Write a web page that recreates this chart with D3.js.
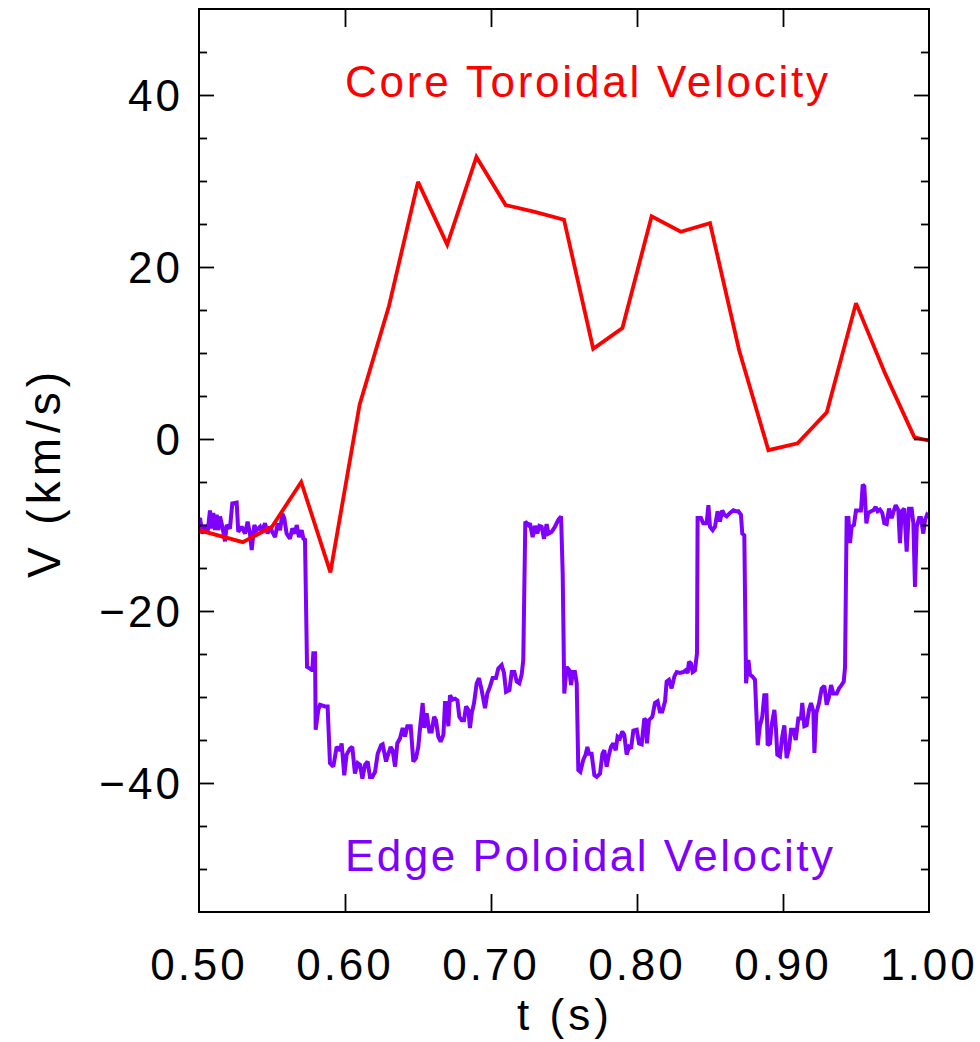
<!DOCTYPE html>
<html>
<head>
<meta charset="utf-8">
<script src="https://cdn.jsdelivr.net/npm/d3@7"></script>
<style>
  html, body { margin: 0; padding: 0; background: #fff; }
  svg { display: block; }
  text { font-family: "Liberation Sans", "DejaVu Sans", sans-serif; }
</style>
</head>
<body>
<div id="chart"></div>
<script>
// ---------- data ----------
const xTicks = [0.5, 0.6, 0.7, 0.8, 0.9, 1.0];
const xTickLabels = ["0.50", "0.60", "0.70", "0.80", "0.90", "1.00"];
const yMajorTicks = [-40, -20, 0, 20, 40];
const yMinorTicks = [-50, -45, -35, -30, -25, -15, -10, -5, 5, 10, 15, 25, 30, 35, 45];
const xLabel = "t (s)";
const yLabel = "V (km/s)";
const coreLabel = "Core Toroidal Velocity";
const edgeLabel = "Edge Poloidal Velocity";

const coreT = [0.50, 0.53, 0.55, 0.57, 0.59, 0.61, 0.63, 0.65, 0.67, 0.69, 0.71, 0.73, 0.75,
  0.77, 0.79, 0.81, 0.83, 0.85, 0.87, 0.89, 0.91, 0.93, 0.95, 0.97, 0.99, 1.00];
const coreV = [-10.6, -12.0, -10.2, -5.0, -15.5, 4.0, 15.4, 29.9, 22.6, 32.8, 27.2, 26.4, 25.5,
  10.5, 12.9, 25.9, 24.1, 25.1, 10.3, -1.3, -0.5, 3.1, 15.8, 7.6, 0.2, -0.2];

const edgeT = [
  0.5000, 0.5007, 0.5023, 0.5041, 0.5059, 0.5075, 0.5087, 0.5098, 0.5110, 0.5121, 0.5132, 0.5144,
  0.5160, 0.5178, 0.5190, 0.5212, 0.5228, 0.5258, 0.5269, 0.5292, 0.5315, 0.5333, 0.5349, 0.5361,
  0.5379, 0.5395, 0.5418, 0.5429, 0.5452, 0.5470, 0.5486, 0.5502, 0.5521, 0.5539, 0.5555, 0.5571,
  0.5584, 0.5600, 0.5623, 0.5639, 0.5658, 0.5669, 0.5685, 0.5703, 0.5715, 0.5726, 0.5740, 0.5760,
  0.5776, 0.5783, 0.5795, 0.5799, 0.5817, 0.5829, 0.5863, 0.5881, 0.5897, 0.5920, 0.5943, 0.5966,
  0.5977, 0.5995, 0.6011, 0.6034, 0.6050, 0.6068, 0.6087, 0.6103, 0.6119, 0.6137, 0.6155, 0.6171,
  0.6187, 0.6206, 0.6224, 0.6247, 0.6258, 0.6281, 0.6297, 0.6313, 0.6326, 0.6343, 0.6358, 0.6377,
  0.6395, 0.6411, 0.6427, 0.6450, 0.6468, 0.6486, 0.6502, 0.6514, 0.6532, 0.6543, 0.6559, 0.6578,
  0.6594, 0.6610, 0.6623, 0.6639, 0.6655, 0.6674, 0.6685, 0.6697, 0.6708, 0.6719, 0.6738, 0.6754,
  0.6770, 0.6783, 0.6799, 0.6815, 0.6829, 0.6845, 0.6856, 0.6868, 0.6884, 0.6902, 0.6918, 0.6936,
  0.6959, 0.6975, 0.6993, 0.7011, 0.7034, 0.7050, 0.7073, 0.7089, 0.7103, 0.7126, 0.7142, 0.7160,
  0.7176, 0.7194, 0.7210, 0.7221, 0.7235, 0.7256, 0.7267, 0.7285, 0.7301, 0.7317, 0.7331, 0.7347,
  0.7363, 0.7381, 0.7393, 0.7415, 0.7438, 0.7461, 0.7480, 0.7491, 0.7502, 0.7518, 0.7537, 0.7548,
  0.7562, 0.7575, 0.7587, 0.7598, 0.7612, 0.7632, 0.7648, 0.7660, 0.7671, 0.7689, 0.7708, 0.7724,
  0.7747, 0.7763, 0.7776, 0.7792, 0.7808, 0.7822, 0.7838, 0.7854, 0.7867, 0.7883, 0.7899, 0.7913,
  0.7929, 0.7945, 0.7959, 0.7975, 0.7998, 0.8014, 0.8032, 0.8050, 0.8059, 0.8068, 0.8082, 0.8105,
  0.8123, 0.8141, 0.8157, 0.8173, 0.8192, 0.8203, 0.8219, 0.8237, 0.8256, 0.8272, 0.8294, 0.8317,
  0.8333, 0.8347, 0.8356, 0.8370, 0.8381, 0.8397, 0.8411, 0.8415, 0.8438, 0.8454, 0.8477, 0.8489,
  0.8500, 0.8518, 0.8534, 0.8552, 0.8568, 0.8584, 0.8598, 0.8614, 0.8637, 0.8660, 0.8676, 0.8694,
  0.8712, 0.8721, 0.8735, 0.8747, 0.8763, 0.8774, 0.8790, 0.8808, 0.8827, 0.8842, 0.8858, 0.8872,
  0.8886, 0.8895, 0.8911, 0.8922, 0.8941, 0.8952, 0.8961, 0.8979, 0.8995, 0.9009, 0.9025, 0.9041,
  0.9055, 0.9071, 0.9087, 0.9105, 0.9123, 0.9132, 0.9146, 0.9162, 0.9178, 0.9192, 0.9208, 0.9215,
  0.9228, 0.9247, 0.9265, 0.9283, 0.9299, 0.9315, 0.9329, 0.9345, 0.9368, 0.9384, 0.9402, 0.9416,
  0.9425, 0.9432, 0.9436, 0.9448, 0.9459, 0.9470, 0.9486, 0.9500, 0.9516, 0.9534, 0.9546, 0.9557,
  0.9571, 0.9584, 0.9603, 0.9619, 0.9635, 0.9648, 0.9664, 0.9680, 0.9694, 0.9710, 0.9726, 0.9744,
  0.9758, 0.9772, 0.9790, 0.9801, 0.9813, 0.9831, 0.9847, 0.9863, 0.9881, 0.9893, 0.9904, 0.9916,
  0.9932, 0.9945, 0.9961, 0.9973, 0.9987, 1.0000
];
const edgeV = [
  -9.4, -9.2, -11.0, -10.0, -10.8, -8.3, -10.4, -8.6, -10.6, -8.8, -10.6, -9.0,
  -10.2, -11.9, -10.0, -10.4, -7.5, -7.4, -10.8, -10.2, -11.0, -9.6, -11.0, -12.9,
  -10.0, -10.6, -10.2, -10.8, -9.8, -11.0, -10.2, -10.8, -11.4, -9.8, -10.6, -8.7,
  -9.2, -11.0, -11.6, -10.4, -11.0, -10.0, -11.4, -10.6, -11.6, -11.7, -26.5, -26.7,
  -26.9, -24.9, -24.9, -33.8, -31.5, -30.9, -31.1, -31.1, -37.7, -38.1, -35.8, -36.2,
  -35.4, -39.1, -36.7, -36.0, -35.8, -38.9, -37.7, -37.9, -39.5, -37.9, -37.5, -39.3,
  -39.3, -38.7, -36.6, -35.6, -35.5, -37.5, -36.6, -35.8, -36.2, -38.1, -35.4, -34.8,
  -33.6, -34.6, -33.4, -33.4, -37.5, -37.1, -35.8, -33.6, -30.7, -33.6, -31.9, -34.0,
  -34.0, -32.3, -32.7, -34.6, -35.2, -34.4, -30.7, -30.7, -33.4, -29.8, -30.3, -30.2,
  -30.4, -32.3, -32.7, -32.7, -31.1, -31.5, -33.6, -31.9, -30.7, -28.4, -27.8, -29.2,
  -31.3, -29.6, -28.8, -27.8, -27.8, -26.7, -26.3, -27.2, -29.4, -29.2, -27.1, -27.1,
  -28.2, -28.4, -27.4, -25.7, -9.6, -10.0, -9.8, -11.4, -10.1, -11.0, -10.1, -10.2,
  -11.6, -9.9, -11.0, -10.8, -10.2, -9.4, -9.0, -15.6, -29.6, -26.5, -26.9, -28.6,
  -27.1, -27.1, -28.4, -38.5, -38.7, -37.3, -36.7, -35.8, -36.6, -36.6, -39.1, -39.3,
  -38.9, -36.6, -36.2, -38.1, -36.7, -35.8, -35.4, -36.2, -34.6, -34.8, -34.0, -34.4,
  -36.7, -35.8, -36.0, -33.9, -33.8, -35.4, -35.5, -32.5, -32.7, -35.4, -32.7, -32.3,
  -30.7, -30.5, -31.7, -31.7, -30.5, -28.2, -28.0, -29.0, -27.6, -27.1, -27.2, -27.1,
  -26.9, -27.2, -25.9, -26.1, -27.1, -26.9, -24.9, -9.2, -9.2, -9.8, -9.8, -7.7,
  -10.2, -10.6, -10.2, -8.4, -9.6, -8.3, -8.8, -9.0, -8.6, -8.3, -8.4, -8.4,
  -8.8, -11.0, -11.2, -28.4, -25.7, -27.4, -27.6, -28.0, -35.6, -33.3, -32.3, -29.8,
  -29.8, -35.6, -35.4, -33.3, -31.5, -33.8, -36.7, -36.9, -34.6, -33.3, -37.1, -36.0,
  -33.8, -33.8, -35.0, -32.5, -32.5, -30.7, -33.4, -33.3, -31.5, -30.7, -31.7, -36.5,
  -31.9, -30.7, -29.0, -28.7, -30.9, -30.0, -28.6, -29.6, -29.6, -29.0, -28.6, -28.2,
  -26.5, -15.2, -9.2, -9.2, -12.1, -10.2, -10.0, -8.3, -8.3, -8.3, -5.3, -5.5,
  -9.8, -8.6, -8.4, -8.3, -7.9, -8.4, -8.2, -8.6, -9.8, -9.9, -8.1, -9.2,
  -8.4, -7.7, -8.3, -12.1, -8.4, -8.1, -13.1, -8.1, -8.1, -9.8, -17.2, -10.2,
  -9.2, -9.2, -11.0, -9.4, -8.8, -9.0
];

// ---------- layout ----------
const W = 980, H = 1042;
const L = 199, R = 929, T = 9, B = 912;

const svg = d3.select("#chart").append("svg").attr("width", W).attr("height", H);

const x = d3.scaleLinear().domain([0.5, 1.0]).range([L, R]);
const y = d3.scaleLinear().domain([-55, 50]).range([B, T]);

const defs = svg.append("defs");
defs.append("clipPath").attr("id", "clip")
  .append("rect").attr("x", L).attr("y", T).attr("width", R - L).attr("height", B - T);

// lines
const plot = svg.append("g").attr("clip-path", "url(#clip)");
const core = coreT.map((t, i) => [t, coreV[i]]);
const edge = edgeT.map((t, i) => [t, edgeV[i]]);
const line = d3.line().x(d => x(d[0])).y(d => y(d[1]));

plot.append("path").datum(edge).attr("d", line)
  .attr("fill", "none").attr("stroke", "#7f00ff").attr("stroke-width", 4)
  .attr("stroke-linejoin", "miter").attr("stroke-miterlimit", 2);
plot.append("path").datum(core).attr("d", line)
  .attr("fill", "none").attr("stroke", "#ff0000").attr("stroke-width", 3.8)
  .attr("stroke-linejoin", "miter").attr("stroke-miterlimit", 3);

// axes (ticks inward)
const axStyle = g => {
  g.select(".domain").remove();
  g.selectAll(".tick line").attr("stroke", "#000").attr("stroke-width", 1.8);
};
const xInner = xTicks.filter(t => t > 0.5 && t < 1.0);
svg.append("g").attr("transform", `translate(0,${B})`)
  .call(d3.axisBottom(x).tickValues(xInner).tickSize(-18).tickFormat(""))
  .call(axStyle);
svg.append("g").attr("transform", `translate(0,${T})`)
  .call(d3.axisTop(x).tickValues(xInner).tickSize(-18).tickFormat(""))
  .call(axStyle);
svg.append("g").attr("transform", `translate(${L},0)`)
  .call(d3.axisLeft(y).tickValues(yMajorTicks).tickSize(-15).tickFormat(""))
  .call(axStyle);
svg.append("g").attr("transform", `translate(${L},0)`)
  .call(d3.axisLeft(y).tickValues(yMinorTicks).tickSize(-8).tickFormat(""))
  .call(axStyle);
svg.append("g").attr("transform", `translate(${R},0)`)
  .call(d3.axisRight(y).tickValues(yMajorTicks).tickSize(-15).tickFormat(""))
  .call(axStyle);
svg.append("g").attr("transform", `translate(${R},0)`)
  .call(d3.axisRight(y).tickValues(yMinorTicks).tickSize(-8).tickFormat(""))
  .call(axStyle);

// frame
svg.append("rect").attr("x", L).attr("y", T).attr("width", R - L).attr("height", B - T)
  .attr("fill", "none").attr("stroke", "#000").attr("stroke-width", 2);

// tick labels
const FS = 44;
svg.append("g").selectAll("text").data(xTicks).join("text")
  .attr("x", d => x(d)).attr("y", 980)
  .attr("text-anchor", "middle").attr("font-size", FS).attr("fill", "#000")
  .attr("letter-spacing", 3)
  .text((d, i) => xTickLabels[i]);

svg.append("g").selectAll("text").data(yMajorTicks).join("text")
  .attr("x", 183).attr("y", d => y(d) + 16)
  .attr("text-anchor", "end").attr("font-size", FS).attr("fill", "#000")
  .attr("letter-spacing", 3)
  .text(d => (d < 0 ? "\u2212" : "") + Math.abs(d));

// axis titles
svg.append("text").attr("x", 565).attr("y", 1030).attr("text-anchor", "middle")
  .attr("font-size", FS).attr("letter-spacing", 4).text(xLabel);
svg.append("text").attr("transform", `translate(60,${(T + B) / 2 + 12}) rotate(-90)`)
  .attr("text-anchor", "middle").attr("font-size", 46)
  .attr("letter-spacing", 5).text(yLabel);

// series labels
svg.append("text").attr("x", 345).attr("y", 97).attr("font-size", FS).attr("fill", "#ff0000")
  .attr("textLength", 483).attr("lengthAdjust", "spacing").text(coreLabel);
svg.append("text").attr("x", 345).attr("y", 871).attr("font-size", FS).attr("fill", "#7f00ff")
  .attr("textLength", 488).attr("lengthAdjust", "spacing").text(edgeLabel);
</script>
</body>
</html>
